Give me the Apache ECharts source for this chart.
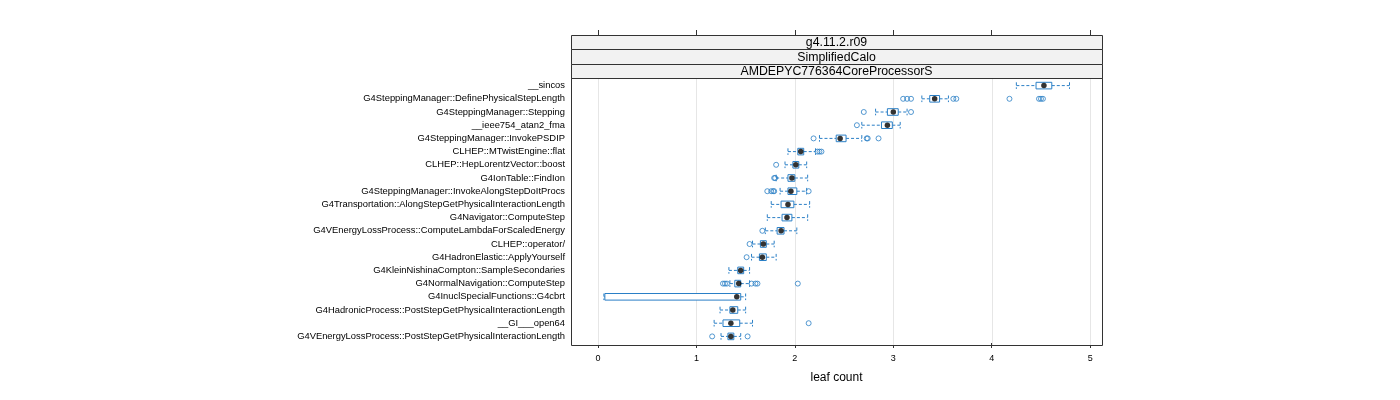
<!DOCTYPE html>
<html>
<head>
<meta charset="utf-8">
<script src="https://cdn.jsdelivr.net/npm/echarts@6/dist/echarts.min.js"></script>
<style>
html,body{margin:0;padding:0;background:#fff;}
#chart{width:1400px;height:400px;}
</style>
</head>
<body>
<div id="chart"></div>
<script>
var categories = [
  '__sincos',
  'G4SteppingManager::DefinePhysicalStepLength',
  'G4SteppingManager::Stepping',
  '__ieee754_atan2_fma',
  'G4SteppingManager::InvokePSDIP',
  'CLHEP::MTwistEngine::flat',
  'CLHEP::HepLorentzVector::boost',
  'G4IonTable::FindIon',
  'G4SteppingManager::InvokeAlongStepDoItProcs',
  'G4Transportation::AlongStepGetPhysicalInteractionLength',
  'G4Navigator::ComputeStep',
  'G4VEnergyLossProcess::ComputeLambdaForScaledEnergy',
  'CLHEP::operator/',
  'G4HadronElastic::ApplyYourself',
  'G4KleinNishinaCompton::SampleSecondaries',
  'G4NormalNavigation::ComputeStep',
  'G4InuclSpecialFunctions::G4cbrt',
  'G4HadronicProcess::PostStepGetPhysicalInteractionLength',
  '__GI___open64',
  'G4VEnergyLossProcess::PostStepGetPhysicalInteractionLength'
];
var whiskerLow  = [4.25, 3.29, 2.82, 2.68, 2.25, 1.93, 1.90, 1.81, 1.85, 1.76, 1.72, 1.70, 1.57, 1.56, 1.33, 1.34, 0.06, 1.24, 1.18, 1.25];
var q1          = [4.45, 3.37, 2.94, 2.88, 2.42, 2.03, 1.98, 1.93, 1.93, 1.86, 1.87, 1.82, 1.65, 1.64, 1.42, 1.39, 0.07, 1.34, 1.27, 1.32];
var median      = [4.53, 3.42, 3.00, 2.94, 2.46, 2.06, 2.01, 1.97, 1.96, 1.93, 1.92, 1.86, 1.68, 1.67, 1.45, 1.43, 1.41, 1.37, 1.35, 1.35];
var q3          = [4.61, 3.47, 3.05, 2.99, 2.52, 2.09, 2.04, 2.00, 2.02, 1.99, 1.97, 1.89, 1.71, 1.71, 1.48, 1.45, 1.45, 1.42, 1.44, 1.38];
var whiskerHigh = [4.79, 3.56, 3.14, 3.07, 2.68, 2.21, 2.12, 2.13, 2.12, 2.15, 2.13, 2.02, 1.79, 1.81, 1.54, 1.54, 1.50, 1.50, 1.57, 1.45];
var outliers = [
  [],
  [3.10, 3.14, 3.18, 3.61, 3.64, 4.18, 4.48, 4.50, 4.52],
  [2.70, 3.18],
  [2.63],
  [2.19, 2.73, 2.74, 2.85],
  [2.23, 2.25, 2.27],
  [1.81],
  [1.79, 1.80],
  [1.72, 1.76, 1.78, 1.79, 2.14],
  [],
  [],
  [1.67],
  [1.54],
  [1.51],
  [],
  [1.27, 1.29, 1.31, 1.56, 1.60, 1.62, 2.03],
  [],
  [],
  [2.14],
  [1.16, 1.52]
];
var tickValues = [0, 1, 2, 3, 4, 5];
var stripLabels = ['g4.11.2.r09', 'SimplifiedCalo', 'AMDEPYC776364CoreProcessorS'];
var xTitle = 'leaf count';

var BLUE = '#2a7fc6';
var FONT = '"Liberation Sans", Arial, sans-serif';
var PL = 571, PR = 1102, PT = 78, PB = 345, ST = 35;
var XMIN = -0.274, XMAX = 5.12;

var boxData = categories.map(function (c, i) {
  return [i, whiskerLow[i], q1[i], median[i], q3[i], whiskerHigh[i]];
});
var medData = categories.map(function (c, i) { return [median[i], i]; });
var outData = [];
outliers.forEach(function (arr, i) { arr.forEach(function (v) { outData.push([v, i]); }); });

var stripH = (PT - ST) / stripLabels.length;
var graphics = [];
stripLabels.forEach(function (s, k) {
  var y0 = Math.round(ST + k * stripH), y1 = Math.round(ST + (k + 1) * stripH);
  graphics.push({
    type: 'rect', shape: { x: PL + 0.5, y: y0 + 0.5, width: PR - PL, height: y1 - y0 },
    style: { fill: '#f2f2f2', stroke: '#333', lineWidth: 1 }, z: 1
  });
  graphics.push({
    type: 'text', x: (PL + PR) / 2, y: (y0 + y1) / 2 + 1,
    style: { text: s, fill: '#000', font: '12.3px ' + FONT, align: 'center', verticalAlign: 'middle' }, z: 2
  });
});
graphics.push({
  type: 'rect', shape: { x: PL + 0.5, y: PT + 0.5, width: PR - PL, height: PB - PT },
  style: { fill: 'none', stroke: '#333', lineWidth: 1 }, z: 100
});

var chart = echarts.init(document.getElementById('chart'), null, { renderer: 'canvas' });
chart.setOption({
  backgroundColor: '#fff',
  animation: false,
  grid: { left: PL, top: PT + 1, width: PR - PL, height: 264, containLabel: false, show: false },
  xAxis: [{
    type: 'value', min: XMIN, max: XMAX, position: 'bottom',
    axisLine: { show: false },
    axisTick: { show: true, inside: false, length: 5, customValues: tickValues, lineStyle: { color: '#333' } },
    axisLabel: { show: true, customValues: tickValues, margin: 11, fontSize: 9, color: '#000', fontFamily: FONT },
    splitLine: { show: false },
    name: xTitle, nameLocation: 'middle', nameGap: 29,
    nameTextStyle: { fontSize: 12, color: '#000', fontFamily: FONT }
  }, {
    type: 'value', min: XMIN, max: XMAX, position: 'top', offset: 44,
    axisLine: { show: false },
    axisTick: { show: true, inside: false, length: 5, customValues: tickValues, lineStyle: { color: '#333' } },
    axisLabel: { show: false },
    splitLine: { show: false }
  }],
  yAxis: {
    type: 'category', data: categories, inverse: true,
    axisLine: { show: false }, axisTick: { show: false },
    axisLabel: { margin: 6, fontSize: 9.4, color: '#000', fontFamily: FONT },
    splitLine: { show: false }
  },
  graphic: graphics,
  series: [{
    type: 'custom', z: 1, silent: true,
    data: tickValues.map(function (v) { return [v]; }),
    encode: { x: 0 },
    renderItem: function (params, api) {
      var x = Math.round(api.coord([api.value(0), 0])[0]) + 0.5;
      return { type: 'line', shape: { x1: x, y1: PT, x2: x, y2: PB },
        style: { stroke: '#e6e6e6', lineWidth: 1 } };
    }
  }, {
    type: 'custom', z: 3, silent: true,
    data: boxData,
    encode: { x: [1, 2, 3, 4, 5], y: 0 },
    renderItem: function (params, api) {
      var c = api.value(0);
      var yc = api.coord([0, c])[1];
      var bh = api.size([0, 1])[1] * 0.5;
      var xl = api.coord([api.value(1), c])[0];
      var x1 = api.coord([api.value(2), c])[0];
      var x3 = api.coord([api.value(4), c])[0];
      var xh = api.coord([api.value(5), c])[0];
      var dash = { stroke: BLUE, lineWidth: 1, lineDash: [3, 2] };
      var y0 = yc - bh / 2, y1 = yc + bh / 2;
      return { type: 'group', children: [
        { type: 'line', shape: { x1: xl, y1: yc, x2: x1, y2: yc }, style: dash },
        { type: 'line', shape: { x1: x3, y1: yc, x2: xh, y2: yc }, style: dash },
        { type: 'line', shape: { x1: xl, y1: y0, x2: xl, y2: y1 }, style: dash },
        { type: 'line', shape: { x1: xh, y1: y0, x2: xh, y2: y1 }, style: dash },
        { type: 'rect', shape: { x: x1, y: y0, width: x3 - x1, height: y1 - y0 },
          style: { fill: '#fff', stroke: BLUE, lineWidth: 1 } }
      ] };
    }
  }, {
    type: 'scatter', z: 4, silent: true,
    data: outData, symbol: 'circle', symbolSize: 5,
    itemStyle: { color: 'rgba(255,255,255,0)', borderColor: BLUE, borderWidth: 1 }
  }, {
    type: 'scatter', z: 5, silent: true,
    data: medData, symbol: 'circle', symbolSize: 5.5,
    itemStyle: { color: '#000' }
  }]
});
</script>
</body>
</html>
